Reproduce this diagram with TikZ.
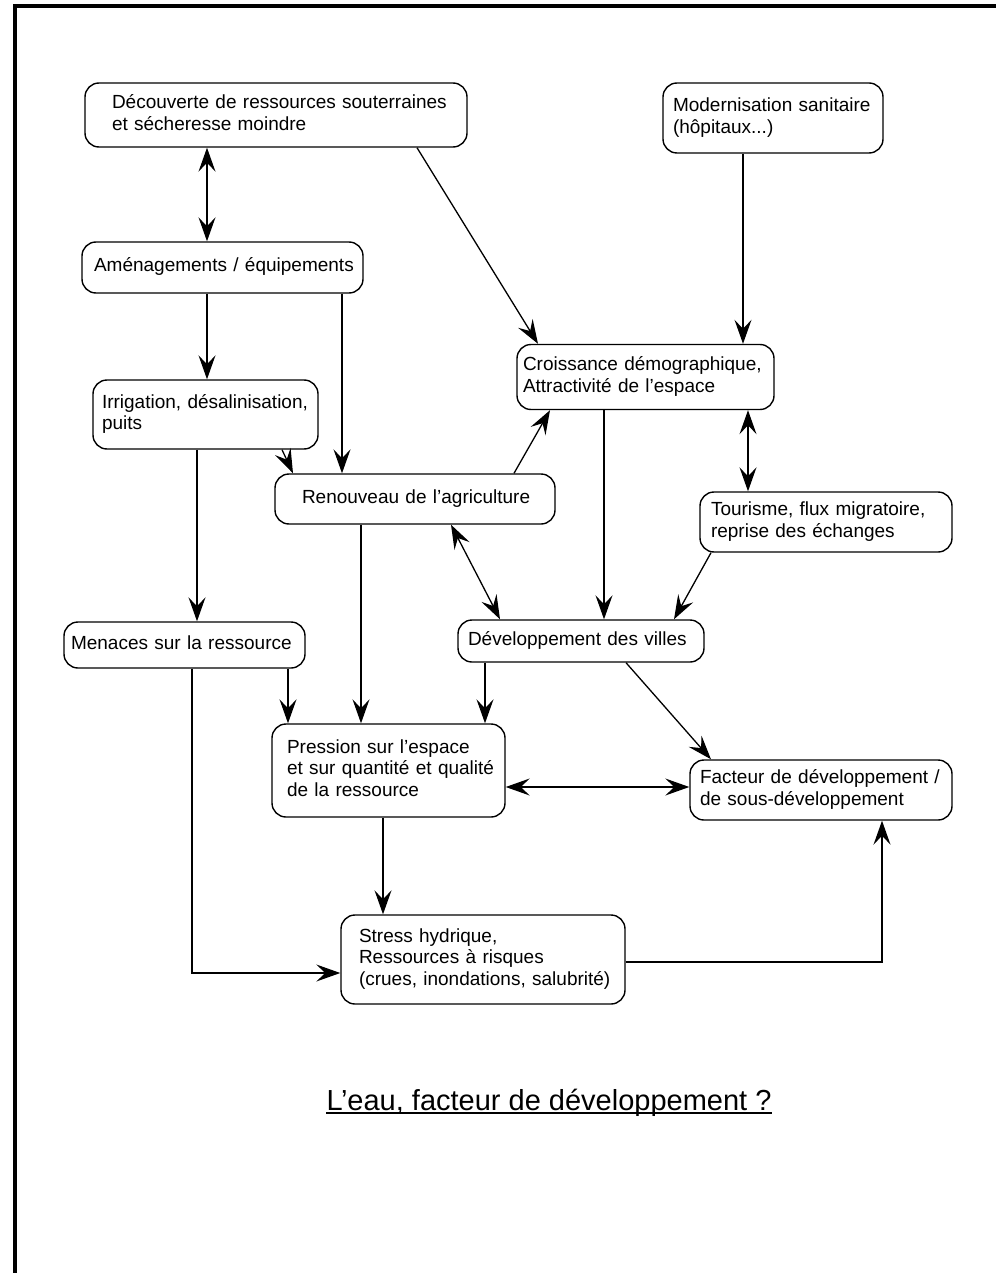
\documentclass[tikz,border=0pt]{standalone}
\usepackage{fontspec}
\setmainfont{Liberation Sans}
\usetikzlibrary{arrows.meta}
\begin{document}
\begin{tikzpicture}[x=1pt,y=-1pt,
  box/.style={draw, line width=1.4pt, rounded corners=14pt, align=left, inner ysep=0pt,
    font=\fontsize{19}{21.5}\selectfont,
    execute at begin node=\strut, execute at end node=\strut},
  conn/.style={line width=1.3pt, -{Stealth[length=24pt,width=17pt,inset=9pt]}},
  bconn/.style={line width=1.3pt, {Stealth[length=24pt,width=17pt,inset=9pt]}-{Stealth[length=24pt,width=17pt,inset=9pt]}}]
\useasboundingbox (0,0) rectangle (996,1273);
\draw[line width=4pt] (15,1273) -- (15,6) -- (996,6);

\node[box, minimum width=382pt, minimum height=64pt, inner xsep=27pt, text width=328pt] (dec) at (276,115)
  {\mbox{Découverte de ressources souterraines}\\\mbox{et sécheresse moindre}};
\node[box, minimum width=220pt, minimum height=70pt, inner xsep=10pt, text width=200pt] (mod) at (773,118)
  {\mbox{Modernisation sanitaire}\\\mbox{(hôpitaux...)}};
\node[box, minimum width=281pt, minimum height=51pt, inner xsep=12pt, text width=257pt] (ame) at (222.5,267.5)
  {\mbox{Aménagements / équipements}};
\node[box, minimum width=225pt, minimum height=69pt, inner xsep=9pt, text width=207pt] (irr) at (205.5,414.5)
  {\mbox{Irrigation, désalinisation,}\\\mbox{puits}};
\node[box, minimum width=257pt, minimum height=65pt, inner xsep=6pt, text width=245pt] (cro) at (645.5,377)
  {\mbox{Croissance démographique,}\\\mbox{Attractivité de l’espace}};
\node[box, minimum width=280pt, minimum height=50pt, inner xsep=27pt, text width=226pt] (ren) at (415,499)
  {\mbox{Renouveau de l’agriculture}};
\node[box, minimum width=252pt, minimum height=60pt, inner xsep=11pt, text width=230pt] (tou) at (826,522)
  {\mbox{Tourisme, flux migratoire,}\\\mbox{reprise des échanges}};
\node[box, minimum width=241pt, minimum height=46pt, inner xsep=7pt, text width=227pt] (men) at (184.5,645)
  {\mbox{Menaces sur la ressource}};
\node[box, minimum width=246pt, minimum height=42pt, inner xsep=10pt, text width=226pt] (vil) at (581,641)
  {\mbox{Développement des villes}};
\node[box, minimum width=233pt, minimum height=93pt, inner xsep=15pt, text width=203pt] (pre) at (388.5,770.5)
  {\mbox{Pression sur l’espace}\\\mbox{et sur quantité et qualité}\\\mbox{de la ressource}};
\node[box, minimum width=262pt, minimum height=60pt, inner xsep=10pt, text width=242pt] (fac) at (821,790)
  {\mbox{Facteur de développement /}\\\mbox{de sous-développement}};
\node[box, minimum width=284pt, minimum height=89pt, inner xsep=18pt, text width=248pt] (str) at (483,959.5)
  {\mbox{Stress hydrique,}\\\mbox{Ressources à risques}\\\mbox{(crues, inondations, salubrité)}};

\draw[bconn] (207,0 |- dec.south) -- (207,0 |- ame.north);
\draw[conn] (417,0 |- dec.south) -- (538,0 |- cro.north);
\draw[conn] (743,0 |- mod.south) -- (743,0 |- cro.north);
\draw[conn] (207,0 |- ame.south) -- (207,0 |- irr.north);
\draw[conn] (342,0 |- ame.south) -- (342,0 |- ren.north);
\draw[conn] (282,0 |- irr.south) -- (293,0 |- ren.north);
\draw[conn] (197,0 |- irr.south) -- (197,0 |- men.north);
\draw[conn] (514,0 |- ren.north) -- (550,0 |- cro.south);
\draw[conn] (604,0 |- cro.south) -- (604,0 |- vil.north);
\draw[bconn] (748,0 |- cro.south) -- (748,0 |- tou.north);
\draw[conn] (711,0 |- tou.south) -- (674,0 |- vil.north);
\draw[bconn] (451,0 |- ren.south) -- (500,0 |- vil.north);
\draw[conn] (361,0 |- ren.south) -- (361,0 |- pre.north);
\draw[conn] (288,0 |- men.south) -- (288,0 |- pre.north);
\draw[conn] (485,0 |- vil.south) -- (485,0 |- pre.north);
\draw[conn] (626,0 |- vil.south) -- (711,0 |- fac.north);
\draw[bconn] (pre.east |- 0,787) -- (fac.west |- 0,787);
\draw[conn] (383,0 |- pre.south) -- (383,0 |- str.north);
\coordinate (c1) at (192,973);
\draw[conn] (192,0 |- men.south) -- (c1) -- (str.west |- c1);
\coordinate (c2) at (882,962);
\draw[conn] (str.east |- c2) -- (c2) -- (c2 |- fac.south);

\node[anchor=base, inner sep=0pt, font=\fontsize{29}{33}\selectfont] (title) at (549,1110)
  {L’eau, facteur de développement ?};
\draw[line width=1.4pt] ([yshift=-3pt]title.base west) -- ([yshift=-3pt]title.base east);
\end{tikzpicture}
\end{document}
